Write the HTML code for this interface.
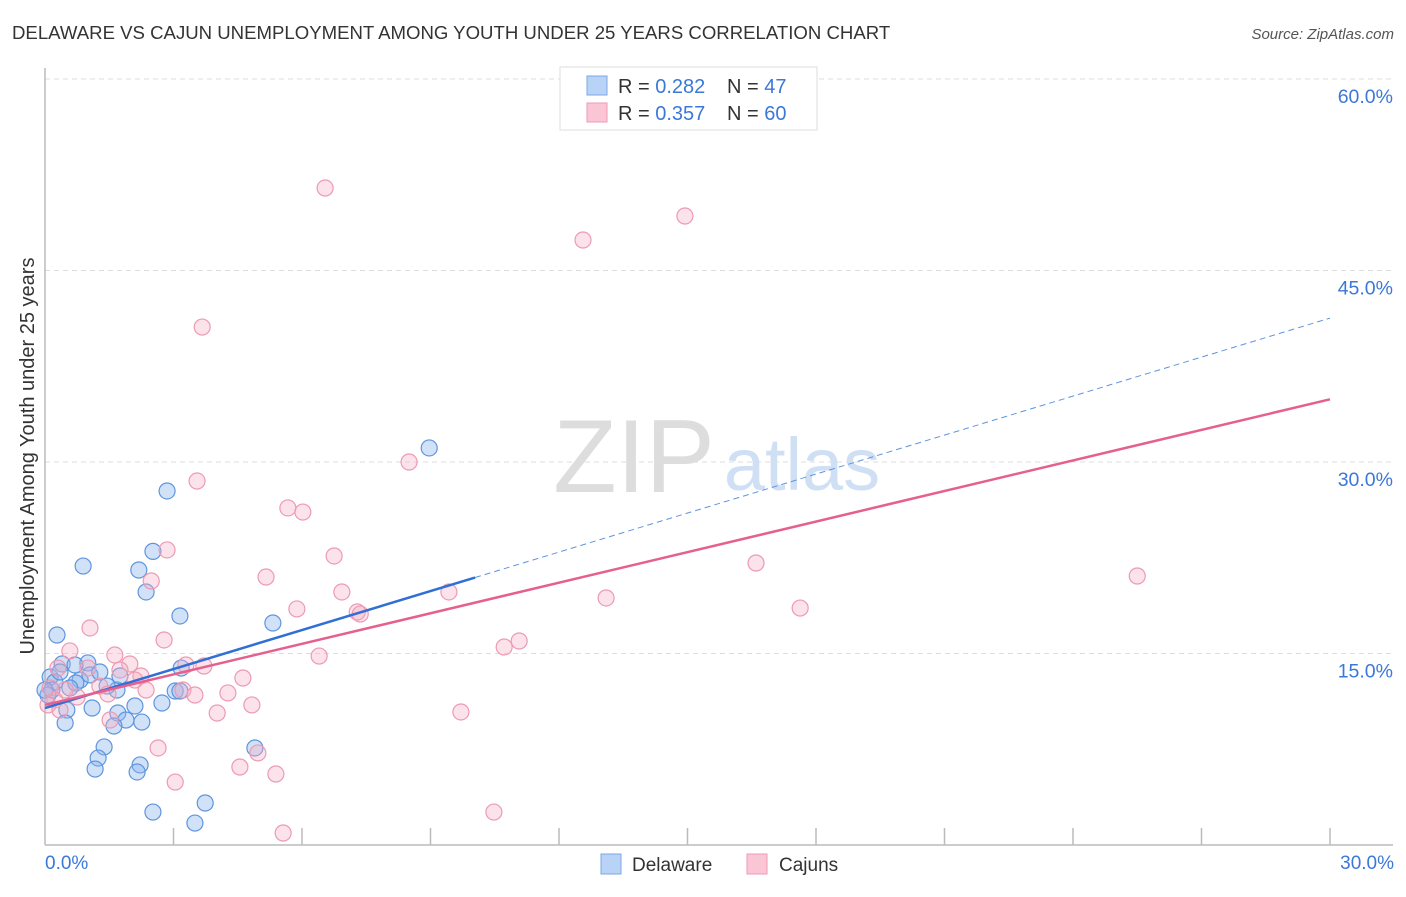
<!DOCTYPE html>
<html><head><meta charset="utf-8"><style>
body{margin:0;background:#fff;font-family:"Liberation Sans",sans-serif}
svg text{font-family:"Liberation Sans",sans-serif}
</style></head><body>
<svg id="chart" width="1406" height="892" xmlns="http://www.w3.org/2000/svg">
<text x="12" y="39" font-size="18.6" fill="#333">DELAWARE VS CAJUN UNEMPLOYMENT AMONG YOUTH UNDER 25 YEARS CORRELATION CHART</text>
<text x="1394" y="39" font-size="15" fill="#555" font-style="italic" text-anchor="end">Source: ZipAtlas.com</text>
<g id="grid"></g>
<g>
<text x="634" y="492" font-size="104" fill="#ddd" font-family="Liberation Serif" text-anchor="middle">ZIP</text>
<text x="802" y="490" font-size="74" fill="#cfe0f5" text-anchor="middle">atlas</text>
</g>
<line x1="45" y1="68" x2="45" y2="845" stroke="#bbb" stroke-width="1.5"/>
<line x1="45" y1="845" x2="1393" y2="845" stroke="#bbb" stroke-width="1.5"/>
<g id="ticks"></g>
<g id="pts"></g>
<g id="lines"></g>
<text transform="translate(34,456) rotate(-90)" font-size="20" fill="#333" text-anchor="middle">Unemployment Among Youth under 25 years</text>
<text x="45" y="869" font-size="19" fill="#3b78d8">0.0%</text>
<text x="1394" y="869" font-size="19" fill="#3b78d8" text-anchor="end">30.0%</text>
<g>
<rect x="560" y="67" width="257" height="63" fill="#fff" stroke="#ddd"/>
<rect x="587" y="76" width="20" height="19" fill="#b8d3f5" stroke="#7aa7e6"/>
<rect x="587" y="103" width="20" height="19" fill="#fac6d6" stroke="#ee9ab4"/>
<text x="618" y="93" font-size="20" fill="#333">R = <tspan fill="#3b78d8">0.282</tspan></text>
<text x="727" y="93" font-size="20" fill="#333">N = <tspan fill="#3b78d8">47</tspan></text>
<text x="618" y="120" font-size="20" fill="#333">R = <tspan fill="#3b78d8">0.357</tspan></text>
<text x="727" y="120" font-size="20" fill="#333">N = <tspan fill="#3b78d8">60</tspan></text>
</g>
<g>
<rect x="601" y="854" width="20" height="20" fill="#b8d3f5" stroke="#7aa7e6"/>
<text x="632" y="871" font-size="19" fill="#333">Delaware</text>
<rect x="747" y="854" width="20" height="20" fill="#fac6d6" stroke="#ee9ab4"/>
<text x="779" y="871" font-size="19" fill="#333">Cajuns</text>
</g>
</svg>
<script>
const yTicks=[15,30,45,60];
const yTickLabels=["15.0%","30.0%","45.0%","60.0%"];
const xTicks=[3,6,9,12,15,18,21,24,27,30];
const delX=[2.85,8.97,0.89,2.52,2.19,2.36,3.15,5.32,0.28,0.40,1.00,0.70,0.12,0.23,0.82,1.05,0.72,0.58,0.16,0.07,1.68,1.45,1.75,3.18,3.04,2.73,2.10,1.70,1.89,2.26,1.61,1.10,0.51,0.47,1.38,1.24,1.17,2.22,2.15,4.90,3.74,2.52,3.50,3.15,0,0.35,1.28];
const delY=[27.73,31.1,21.85,23.0,21.54,19.82,17.94,17.39,16.45,14.18,14.26,14.1,13.16,12.77,12.92,13.32,12.69,12.3,12.14,11.75,12.14,12.45,13.24,13.86,12.06,11.12,10.89,10.34,9.79,9.63,9.32,10.73,10.57,9.56,7.68,6.81,5.95,6.27,5.72,7.6,3.29,2.58,1.72,12.06,12.14,13.55,13.55];
const cajX=[6.54,14.94,12.56,3.67,8.50,3.55,5.67,6.02,2.85,6.75,2.48,5.16,16.6,25.5,6.93,9.43,13.1,5.88,7.29,7.36,17.63,11.07,10.72,1.05,2.78,0.58,1.63,6.40,1.98,3.71,3.29,0.30,1.00,2.24,4.62,1.28,2.36,3.22,4.27,1.47,4.83,0.75,0.23,0.07,9.71,4.02,1.52,2.64,4.97,4.55,5.39,3.04,10.48,5.56,0.47,0.12,1.75,2.10,3.5,0.35];
const cajY=[51.46,49.27,47.39,40.57,30.0,28.51,26.4,26.08,23.11,22.64,20.68,20.99,22.09,21.07,19.82,19.82,19.35,18.49,18.25,18.09,18.56,15.98,15.51,17.0,16.06,15.2,14.88,14.8,14.18,14.02,14.1,13.86,13.86,13.24,13.08,12.45,12.14,12.14,11.91,11.83,10.97,11.59,11.36,10.97,10.42,10.34,9.79,7.6,7.21,6.11,5.56,4.93,2.58,0.94,12.14,12.3,13.71,12.92,11.75,10.57];
const delTrend=[10.73,1.018,10.04];
const cajTrend=[10.97,0.798];
const NS="http://www.w3.org/2000/svg";
const X=v=>45+v/30*1285, Y=v=>845-v/60*766;
function mk(t,a,p){const e=document.createElementNS(NS,t);for(const k in a)e.setAttribute(k,a[k]);document.getElementById(p).appendChild(e);return e;}
yTicks.forEach((t,i)=>{
 const g=mk('line',{x1:45,x2:1393,y1:Y(t),y2:Y(t),stroke:'#ddd','stroke-dasharray':'5,4'},'grid');
 
 
 const l=mk('text',{x:1393,y:Y(t)+24,'font-size':19.5,fill:'#3b78d8','text-anchor':'end'},'grid');
 l.textContent=yTickLabels[i];
 
 
});
xTicks.forEach(t=>{
 const e=mk('line',{x1:X(t),x2:X(t),y1:828,y2:845,stroke:'#bbb','stroke-width':1.5},'ticks');
 
 
});
delX.forEach((v,i)=>{
 const c=mk('circle',{cx:X(v),cy:Y(delY[i]),r:8,fill:'rgba(140,182,238,0.4)',stroke:'#5e95dd','stroke-width':1.2},'pts');
 
 
});
cajX.forEach((v,i)=>{
 const c=mk('circle',{cx:X(v),cy:Y(cajY[i]),r:8,fill:'rgba(246,172,194,0.35)',stroke:'#ec9ab2','stroke-width':1.2},'pts');
 
 
});
const d0=delTrend[0],ds=delTrend[1],de=delTrend[2];
let l1=mk('line',{x1:X(0),y1:Y(d0),x2:X(de),y2:Y(d0+ds*de),stroke:'#2f6fd6','stroke-width':2.5},'lines');


let l2=mk('line',{x1:X(de),y1:Y(d0+ds*de),x2:X(30),y2:Y(d0+ds*30),stroke:'#5e95dd','stroke-width':1,'stroke-dasharray':'6,4'},'lines');


let l3=mk('line',{x1:X(0),y1:Y(cajTrend[0]),x2:X(30),y2:Y(cajTrend[0]+cajTrend[1]*30),stroke:'#e5608e','stroke-width':2.5},'lines');


</script>
</body></html>
